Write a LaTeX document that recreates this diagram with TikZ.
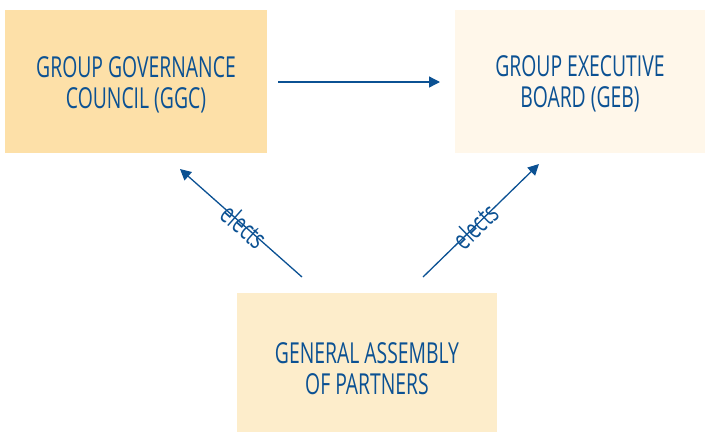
\documentclass[tikz,border=0pt]{standalone}
\usepackage{fontspec}
\usepackage{tikz}
\usetikzlibrary{arrows.meta}
\newfontfamily\condfont[FakeStretch=0.67]{Open Sans}
\definecolor{boardblue}{HTML}{0B5193}
\definecolor{ggcfill}{HTML}{FDE0A8}
\definecolor{gebfill}{HTML}{FFF7EA}
\definecolor{gapfill}{HTML}{FDEDCB}

\begin{document}
\begin{tikzpicture}
  [x=1bp,y=-1bp,
   box/.style={rectangle,inner sep=0pt,align=center,text=boardblue,
     font=\condfont\fontsize{29}{31}\selectfont},
   link/.style={draw=boardblue,line width=1.3bp,-{Triangle[length=11bp,width=11bp]}},
   lbl/.style={sloped,text=boardblue,font=\condfont\fontsize{28}{30}\selectfont}]
  \useasboundingbox (0,0) rectangle (705,432);

  \fill[ggcfill] (5,10) rectangle (267,153);
  \fill[gebfill] (455,10) rectangle (705,153);
  \fill[gapfill] (237,293) rectangle (497,432);

  \node[box] (ggc) at (136,85)   {GROUP GOVERNANCE\\COUNCIL (GGC)};
  \node[box] (geb) at (580,84)   {GROUP EXECUTIVE\\BOARD (GEB)};
  \node[box] (gap) at (367,369)  {GENERAL ASSEMBLY\\OF PARTNERS};

  \coordinate (ggcout) at (278,82);
  \coordinate (gebin)  at (440,82);
  \coordinate (gapl)   at (302,277);
  \coordinate (ggcin)  at (180,169);
  \coordinate (gapr)   at (423,277);
  \coordinate (gebup)  at (539,164);

  \draw[link] (ggcout) -- (gebin);
  \draw[link] (gapl) -- node[lbl,pos=0.47] {elects} (ggcin);
  \draw[link] (gapr) -- node[lbl,pos=0.45] {elects} (gebup);
\end{tikzpicture}
\end{document}
